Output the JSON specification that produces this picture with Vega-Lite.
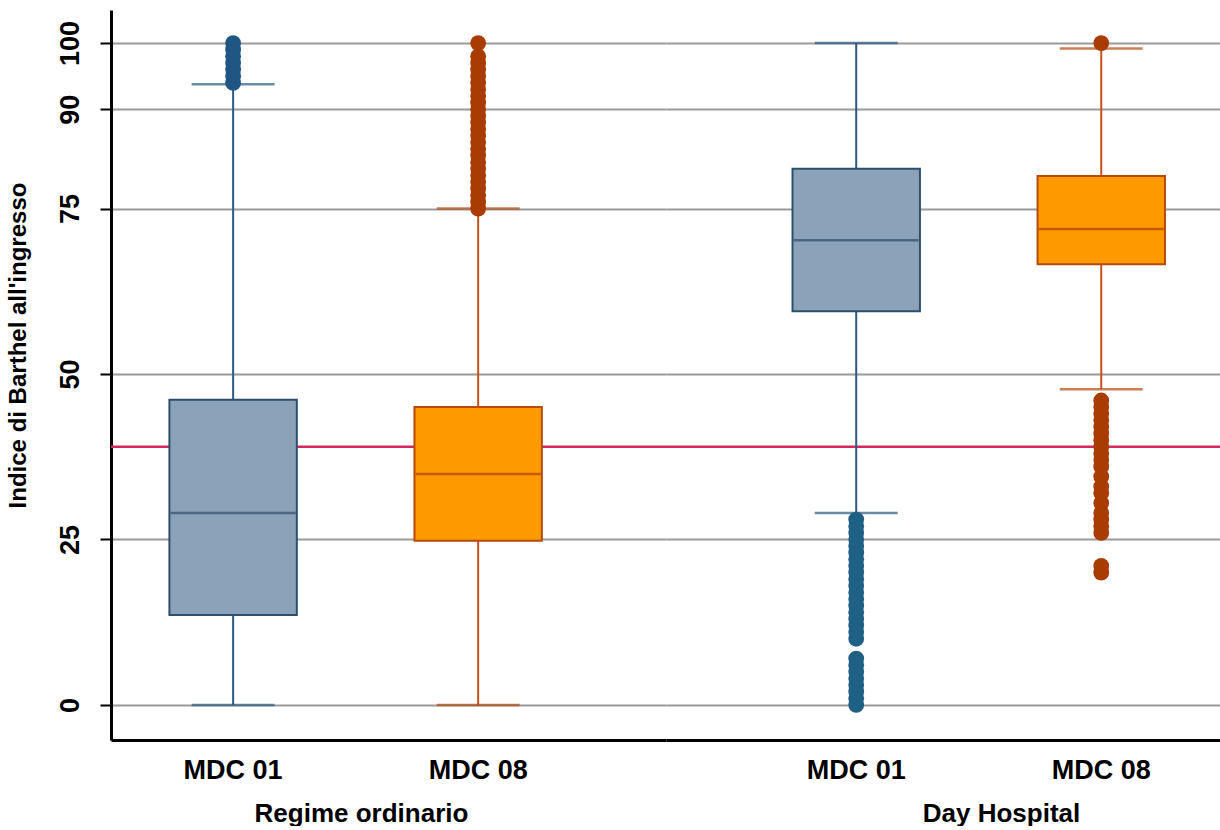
{
  "$schema": "https://vega.github.io/schema/vega-lite/v6.json",
  "background": "white",
  "padding": {"left": 6, "top": 10, "right": 0, "bottom": 0},
  "spacing": 0,
  "bounds": "flush",
  "config": {
    "view": {"stroke": null},
    "font": "Liberation Sans",
    "axis": {
      "labelFont": "Liberation Sans",
      "titleFont": "Liberation Sans",
      "labelFontWeight": "bold",
      "titleFontWeight": "bold",
      "labelColor": "#000000",
      "titleColor": "#000000",
      "gridColor": "#9a9a9a",
      "gridWidth": 2,
      "gridOpacity": 1
    }
  },
  "datasets": {
    "boxes": [
      {"regime": "Regime ordinario", "mdc": "MDC 01", "lo": 0, "q1": 13.6, "med": 29.0, "q3": 46.1, "hi": 93.8},
      {"regime": "Regime ordinario", "mdc": "MDC 08", "lo": 0, "q1": 24.8, "med": 34.9, "q3": 45.0, "hi": 75},
      {"regime": "Day Hospital", "mdc": "MDC 01", "lo": 29.0, "q1": 59.5, "med": 70.2, "q3": 81.0, "hi": 100},
      {"regime": "Day Hospital", "mdc": "MDC 08", "lo": 47.7, "q1": 66.6, "med": 71.9, "q3": 79.9, "hi": 99.2}
    ],
    "outliers": [
      {"regime": "Regime ordinario", "mdc": "MDC 01", "value": 94},
      {"regime": "Regime ordinario", "mdc": "MDC 01", "value": 95},
      {"regime": "Regime ordinario", "mdc": "MDC 01", "value": 96},
      {"regime": "Regime ordinario", "mdc": "MDC 01", "value": 97},
      {"regime": "Regime ordinario", "mdc": "MDC 01", "value": 98},
      {"regime": "Regime ordinario", "mdc": "MDC 01", "value": 99},
      {"regime": "Regime ordinario", "mdc": "MDC 01", "value": 100},
      {"regime": "Regime ordinario", "mdc": "MDC 08", "value": 75},
      {"regime": "Regime ordinario", "mdc": "MDC 08", "value": 76},
      {"regime": "Regime ordinario", "mdc": "MDC 08", "value": 77},
      {"regime": "Regime ordinario", "mdc": "MDC 08", "value": 78},
      {"regime": "Regime ordinario", "mdc": "MDC 08", "value": 79},
      {"regime": "Regime ordinario", "mdc": "MDC 08", "value": 80},
      {"regime": "Regime ordinario", "mdc": "MDC 08", "value": 81},
      {"regime": "Regime ordinario", "mdc": "MDC 08", "value": 82},
      {"regime": "Regime ordinario", "mdc": "MDC 08", "value": 83},
      {"regime": "Regime ordinario", "mdc": "MDC 08", "value": 84},
      {"regime": "Regime ordinario", "mdc": "MDC 08", "value": 85},
      {"regime": "Regime ordinario", "mdc": "MDC 08", "value": 86},
      {"regime": "Regime ordinario", "mdc": "MDC 08", "value": 87},
      {"regime": "Regime ordinario", "mdc": "MDC 08", "value": 88},
      {"regime": "Regime ordinario", "mdc": "MDC 08", "value": 89},
      {"regime": "Regime ordinario", "mdc": "MDC 08", "value": 90},
      {"regime": "Regime ordinario", "mdc": "MDC 08", "value": 91},
      {"regime": "Regime ordinario", "mdc": "MDC 08", "value": 92},
      {"regime": "Regime ordinario", "mdc": "MDC 08", "value": 93},
      {"regime": "Regime ordinario", "mdc": "MDC 08", "value": 94},
      {"regime": "Regime ordinario", "mdc": "MDC 08", "value": 95},
      {"regime": "Regime ordinario", "mdc": "MDC 08", "value": 96},
      {"regime": "Regime ordinario", "mdc": "MDC 08", "value": 97},
      {"regime": "Regime ordinario", "mdc": "MDC 08", "value": 98},
      {"regime": "Regime ordinario", "mdc": "MDC 08", "value": 100},
      {"regime": "Day Hospital", "mdc": "MDC 01", "value": 0},
      {"regime": "Day Hospital", "mdc": "MDC 01", "value": 1},
      {"regime": "Day Hospital", "mdc": "MDC 01", "value": 2},
      {"regime": "Day Hospital", "mdc": "MDC 01", "value": 3},
      {"regime": "Day Hospital", "mdc": "MDC 01", "value": 4},
      {"regime": "Day Hospital", "mdc": "MDC 01", "value": 5},
      {"regime": "Day Hospital", "mdc": "MDC 01", "value": 6},
      {"regime": "Day Hospital", "mdc": "MDC 01", "value": 7},
      {"regime": "Day Hospital", "mdc": "MDC 01", "value": 10},
      {"regime": "Day Hospital", "mdc": "MDC 01", "value": 11},
      {"regime": "Day Hospital", "mdc": "MDC 01", "value": 12},
      {"regime": "Day Hospital", "mdc": "MDC 01", "value": 13},
      {"regime": "Day Hospital", "mdc": "MDC 01", "value": 14},
      {"regime": "Day Hospital", "mdc": "MDC 01", "value": 15},
      {"regime": "Day Hospital", "mdc": "MDC 01", "value": 16},
      {"regime": "Day Hospital", "mdc": "MDC 01", "value": 17},
      {"regime": "Day Hospital", "mdc": "MDC 01", "value": 18},
      {"regime": "Day Hospital", "mdc": "MDC 01", "value": 19},
      {"regime": "Day Hospital", "mdc": "MDC 01", "value": 20},
      {"regime": "Day Hospital", "mdc": "MDC 01", "value": 21},
      {"regime": "Day Hospital", "mdc": "MDC 01", "value": 22},
      {"regime": "Day Hospital", "mdc": "MDC 01", "value": 23},
      {"regime": "Day Hospital", "mdc": "MDC 01", "value": 24},
      {"regime": "Day Hospital", "mdc": "MDC 01", "value": 25},
      {"regime": "Day Hospital", "mdc": "MDC 01", "value": 26},
      {"regime": "Day Hospital", "mdc": "MDC 01", "value": 27},
      {"regime": "Day Hospital", "mdc": "MDC 01", "value": 28},
      {"regime": "Day Hospital", "mdc": "MDC 08", "value": 20},
      {"regime": "Day Hospital", "mdc": "MDC 08", "value": 21},
      {"regime": "Day Hospital", "mdc": "MDC 08", "value": 26},
      {"regime": "Day Hospital", "mdc": "MDC 08", "value": 27},
      {"regime": "Day Hospital", "mdc": "MDC 08", "value": 28},
      {"regime": "Day Hospital", "mdc": "MDC 08", "value": 29},
      {"regime": "Day Hospital", "mdc": "MDC 08", "value": 30.5},
      {"regime": "Day Hospital", "mdc": "MDC 08", "value": 32},
      {"regime": "Day Hospital", "mdc": "MDC 08", "value": 33},
      {"regime": "Day Hospital", "mdc": "MDC 08", "value": 34.5},
      {"regime": "Day Hospital", "mdc": "MDC 08", "value": 36},
      {"regime": "Day Hospital", "mdc": "MDC 08", "value": 37},
      {"regime": "Day Hospital", "mdc": "MDC 08", "value": 38},
      {"regime": "Day Hospital", "mdc": "MDC 08", "value": 39},
      {"regime": "Day Hospital", "mdc": "MDC 08", "value": 40},
      {"regime": "Day Hospital", "mdc": "MDC 08", "value": 41},
      {"regime": "Day Hospital", "mdc": "MDC 08", "value": 42},
      {"regime": "Day Hospital", "mdc": "MDC 08", "value": 43},
      {"regime": "Day Hospital", "mdc": "MDC 08", "value": 44},
      {"regime": "Day Hospital", "mdc": "MDC 08", "value": 45},
      {"regime": "Day Hospital", "mdc": "MDC 08", "value": 46},
      {"regime": "Day Hospital", "mdc": "MDC 08", "value": 100}
    ],
    "ref": [{"soglia": 39}]
  },
  "hconcat": [
    {
      "width": 555,
      "height": 730,
      "resolve": {"scale": {"color": "independent", "fill": "independent", "stroke": "independent"}},
      "encoding": {
        "x": {
          "field": "mdc", "type": "nominal",
          "scale": {"domain": ["MDC 01", "MDC 08"], "paddingInner": 0.48, "paddingOuter": 0.3725, "align": 0.32},
          "axis": {
            "title": "Regime ordinario", "titleFontSize": 26, "titleX": 250, "titlePadding": 17,
            "labelAngle": 0, "labelFontSize": 27, "labelPadding": 17, "ticks": false,
            "domainColor": "#000000", "domainWidth": 3
          }
        }
      },
      "layer": [
        {
          "data": {"name": "ref"},
          "mark": {"type": "rule", "color": "#d42a5b", "strokeWidth": 2.5},
          "encoding": {
            "x": null,
            "y": {
              "field": "soglia", "type": "quantitative",
              "scale": {"domain": [-5.3, 105], "nice": false, "zero": false},
              "axis": {
                "values": [0, 25, 50, 75, 90, 100], "grid": true,
                "title": "Indice di Barthel all'ingresso", "titleFontSize": 24, "titlePadding": 26, "titleY": 335,
                "labelAngle": -90, "labelAlign": "center", "labelBaseline": "bottom",
                "labelFontSize": 27, "labelPadding": 16,
                "tickSize": 11, "tickColor": "#000000", "tickWidth": 2,
                "domainColor": "#000000", "domainWidth": 3
              }
            }
          }
        },
        {
          "data": {"name": "boxes"},
          "transform": [{"filter": "datum.regime === 'Regime ordinario'"}],
          "mark": {"type": "rule", "strokeWidth": 2},
          "encoding": {
            "y": {"field": "lo", "type": "quantitative"},
            "y2": {"field": "hi"},
            "color": {"field": "mdc", "type": "nominal", "scale": {"domain": ["MDC 01", "MDC 08"], "range": ["#2d5a80", "#c2531c"]}, "legend": null}
          }
        },
        {
          "data": {"name": "boxes"},
          "transform": [{"filter": "datum.regime === 'Regime ordinario'"}],
          "mark": {"type": "bar", "strokeWidth": 2},
          "encoding": {
            "y": {"field": "q1", "type": "quantitative"},
            "y2": {"field": "q3"},
            "fill": {"field": "mdc", "type": "nominal", "scale": {"domain": ["MDC 01", "MDC 08"], "range": ["#8ca2b8", "#ff9900"]}, "legend": null},
            "stroke": {"field": "mdc", "type": "nominal", "scale": {"domain": ["MDC 01", "MDC 08"], "range": ["#2c4f6e", "#b44a0d"]}, "legend": null}
          }
        },
        {
          "data": {"name": "boxes"},
          "transform": [{"filter": "datum.regime === 'Regime ordinario'"}],
          "mark": {"type": "tick", "size": 125, "thickness": 2.5},
          "encoding": {
            "y": {"field": "med", "type": "quantitative"},
            "color": {"field": "mdc", "type": "nominal", "scale": {"domain": ["MDC 01", "MDC 08"], "range": ["#2c4f6e", "#a84400"]}, "legend": null}
          }
        },
        {
          "data": {"name": "boxes"},
          "transform": [{"filter": "datum.regime === 'Regime ordinario'"}],
          "mark": {"type": "tick", "size": 83, "thickness": 2.5},
          "encoding": {
            "y": {"field": "lo", "type": "quantitative"},
            "color": {"field": "mdc", "type": "nominal", "scale": {"domain": ["MDC 01", "MDC 08"], "range": ["#2d5a80", "#b44a0d"]}, "legend": null}
          }
        },
        {
          "data": {"name": "boxes"},
          "transform": [{"filter": "datum.regime === 'Regime ordinario'"}],
          "mark": {"type": "tick", "size": 83, "thickness": 2.5},
          "encoding": {
            "y": {"field": "hi", "type": "quantitative"},
            "color": {"field": "mdc", "type": "nominal", "scale": {"domain": ["MDC 01", "MDC 08"], "range": ["#2d5a80", "#b44a0d"]}, "legend": null}
          }
        },
        {
          "data": {"name": "outliers"},
          "transform": [{"filter": "datum.regime === 'Regime ordinario'"}],
          "mark": {"type": "circle", "size": 250, "opacity": 1},
          "encoding": {
            "y": {"field": "value", "type": "quantitative"},
            "color": {"field": "mdc", "type": "nominal", "scale": {"domain": ["MDC 01", "MDC 08"], "range": ["#1f5682", "#a83c02"]}, "legend": null}
          }
        }
      ]
    },
    {
      "width": 555,
      "height": 730,
      "resolve": {"scale": {"color": "independent", "fill": "independent", "stroke": "independent"}},
      "encoding": {
        "x": {
          "field": "mdc", "type": "nominal",
          "scale": {"domain": ["MDC 01", "MDC 08"], "paddingInner": 0.48, "paddingOuter": 0.3725, "align": 0.693},
          "axis": {
            "title": "Day Hospital", "titleFontSize": 26, "titleX": 335, "titlePadding": 17,
            "labelAngle": 0, "labelFontSize": 27, "labelPadding": 17, "ticks": false,
            "domainColor": "#000000", "domainWidth": 3
          }
        }
      },
      "layer": [
        {
          "data": {"name": "ref"},
          "mark": {"type": "rule", "color": "#d42a5b", "strokeWidth": 2.5},
          "encoding": {
            "x": null,
            "y": {
              "field": "soglia", "type": "quantitative",
              "scale": {"domain": [-5.3, 105], "nice": false, "zero": false},
              "axis": {
                "values": [0, 25, 50, 75, 90, 100], "grid": true,
                "title": null, "labels": false, "ticks": false, "domain": false,
                "minExtent": 0, "maxExtent": 0, "offset": 0
              }
            }
          }
        },
        {
          "data": {"name": "boxes"},
          "transform": [{"filter": "datum.regime === 'Day Hospital'"}],
          "mark": {"type": "rule", "strokeWidth": 2},
          "encoding": {
            "y": {"field": "lo", "type": "quantitative"},
            "y2": {"field": "hi"},
            "color": {"field": "mdc", "type": "nominal", "scale": {"domain": ["MDC 01", "MDC 08"], "range": ["#2d5a80", "#c2531c"]}, "legend": null}
          }
        },
        {
          "data": {"name": "boxes"},
          "transform": [{"filter": "datum.regime === 'Day Hospital'"}],
          "mark": {"type": "bar", "strokeWidth": 2},
          "encoding": {
            "y": {"field": "q1", "type": "quantitative"},
            "y2": {"field": "q3"},
            "fill": {"field": "mdc", "type": "nominal", "scale": {"domain": ["MDC 01", "MDC 08"], "range": ["#8ca2b8", "#ff9900"]}, "legend": null},
            "stroke": {"field": "mdc", "type": "nominal", "scale": {"domain": ["MDC 01", "MDC 08"], "range": ["#2c4f6e", "#b44a0d"]}, "legend": null}
          }
        },
        {
          "data": {"name": "boxes"},
          "transform": [{"filter": "datum.regime === 'Day Hospital'"}],
          "mark": {"type": "tick", "size": 125, "thickness": 2.5},
          "encoding": {
            "y": {"field": "med", "type": "quantitative"},
            "color": {"field": "mdc", "type": "nominal", "scale": {"domain": ["MDC 01", "MDC 08"], "range": ["#2c4f6e", "#a84400"]}, "legend": null}
          }
        },
        {
          "data": {"name": "boxes"},
          "transform": [{"filter": "datum.regime === 'Day Hospital'"}],
          "mark": {"type": "tick", "size": 83, "thickness": 2.5},
          "encoding": {
            "y": {"field": "lo", "type": "quantitative"},
            "color": {"field": "mdc", "type": "nominal", "scale": {"domain": ["MDC 01", "MDC 08"], "range": ["#2d5a80", "#b44a0d"]}, "legend": null}
          }
        },
        {
          "data": {"name": "boxes"},
          "transform": [{"filter": "datum.regime === 'Day Hospital'"}],
          "mark": {"type": "tick", "size": 83, "thickness": 2.5},
          "encoding": {
            "y": {"field": "hi", "type": "quantitative"},
            "color": {"field": "mdc", "type": "nominal", "scale": {"domain": ["MDC 01", "MDC 08"], "range": ["#2d5a80", "#b44a0d"]}, "legend": null}
          }
        },
        {
          "data": {"name": "outliers"},
          "transform": [{"filter": "datum.regime === 'Day Hospital'"}],
          "mark": {"type": "circle", "size": 250, "opacity": 1},
          "encoding": {
            "y": {"field": "value", "type": "quantitative"},
            "color": {"field": "mdc", "type": "nominal", "scale": {"domain": ["MDC 01", "MDC 08"], "range": ["#1f6185", "#a83c02"]}, "legend": null}
          }
        }
      ]
    }
  ]
}
